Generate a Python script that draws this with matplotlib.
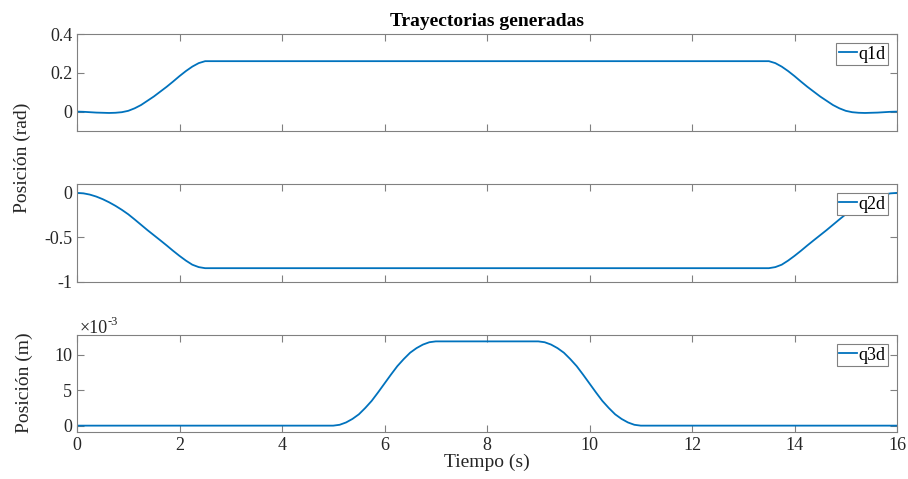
import matplotlib
matplotlib.use("Agg")
import matplotlib.pyplot as plt

# trayectorias articulares deseadas
t1 = [0, 0.125, 0.25, 0.375, 0.5, 0.625, 0.75, 0.875, 1.0, 1.125, 1.25, 1.375, 1.5,
      1.625, 1.75, 1.875, 2.0, 2.125, 2.25, 2.375, 2.5,
      13.5, 13.625, 13.75, 13.875, 14.0, 14.125, 14.25, 14.375, 14.5, 14.625, 14.75,
      14.875, 15.0, 15.125, 15.25, 15.375, 15.5, 15.625, 15.75, 15.875, 16]
q1d = [0.0, -0.001, -0.003, -0.005, -0.006, -0.007, -0.006, -0.003, 0.004, 0.017, 0.034,
       0.056, 0.078, 0.103, 0.128, 0.155, 0.183, 0.209, 0.232, 0.25, 0.26,
       0.26, 0.25, 0.232, 0.209, 0.183, 0.155, 0.128, 0.103, 0.078, 0.056, 0.034,
       0.017, 0.004, -0.003, -0.006, -0.007, -0.006, -0.005, -0.003, -0.001, 0.0]

t2 = t1
q2d = [0.0, -0.005, -0.019, -0.041, -0.07, -0.105, -0.145, -0.19, -0.24, -0.298, -0.358,
       -0.418, -0.475, -0.532, -0.59, -0.65, -0.707, -0.76, -0.806, -0.833, -0.845,
       -0.845, -0.833, -0.806, -0.76, -0.707, -0.65, -0.59, -0.532, -0.475, -0.418, -0.358,
       -0.298, -0.24, -0.19, -0.145, -0.105, -0.07, -0.041, -0.019, -0.005, 0.0]

t3 = [0, 5.0, 5.125, 5.25, 5.375, 5.5, 5.625, 5.75, 5.875, 6.0, 6.125, 6.25, 6.375,
      6.5, 6.625, 6.75, 6.875, 7.0,
      9.0, 9.125, 9.25, 9.375, 9.5, 9.625, 9.75, 9.875, 10.0, 10.125, 10.25, 10.375,
      10.5, 10.625, 10.75, 10.875, 11.0, 16]
q3d = [0.0, 0.0, 0.00012, 0.00045, 0.00095, 0.0016, 0.0025, 0.0035, 0.0047, 0.00595,
       0.0072, 0.0084, 0.0094, 0.0103, 0.01095, 0.01145, 0.01178, 0.0119,
       0.0119, 0.01178, 0.01145, 0.01095, 0.0103, 0.0094, 0.0084, 0.0072, 0.00595,
       0.0047, 0.0035, 0.0025, 0.0016, 0.00095, 0.00045, 0.00012, 0.0, 0.0]

xticks = [0, 2, 4, 6, 8, 10, 12, 14, 16]

plt.rcParams['font.family'] = 'Liberation Serif'
plt.rcParams['axes.unicode_minus'] = False
plt.rcParams['font.size'] = 13

color = '#0072BD'
gris = '#808080'
texto = '#262626'

fig = plt.figure(figsize=(9.08, 4.79), dpi=100)
ax1 = fig.add_axes([0.0848, 0.7265, 0.9031, 0.2025])
ax2 = fig.add_axes([0.0848, 0.4113, 0.9031, 0.2046])
ax3 = fig.add_axes([0.0848, 0.0981, 0.9031, 0.2025])

datos = [(ax1, t1, q1d, 'q1d'), (ax2, t2, q2d, 'q2d'), (ax3, t3, q3d, 'q3d')]
for ax, t, q, nombre in datos:
    ax.plot(t, q, color=color, lw=1.3, label=nombre)
    ax.set_xlim(0, 16)
    ax.set_xticks(xticks)
    ax.tick_params(direction='in', length=5, width=0.8, color=gris,
                   labelcolor=texto, labelsize=13, top=True, right=True)
    for s in ax.spines.values():
        s.set_color(gris)
        s.set_linewidth(0.8)
    leg = ax.legend(loc='upper right', fontsize=13, handlelength=1.0,
                    handletextpad=0.05, borderpad=0.15, borderaxespad=0.5,
                    fancybox=False, framealpha=1, edgecolor=gris)
    leg.get_frame().set_linewidth(0.8)

ax1.set_xticklabels([])
ax2.set_xticklabels([])

ax1.set_ylim(-0.1, 0.4)
ax1.set_yticks([0, 0.2, 0.4])
ax1.set_yticklabels(['0', '0.2', '0.4'])

ax2.set_ylim(-1, 0.1)
ax2.set_yticks([-1, -0.5, 0])
ax2.set_yticklabels(['-1', '-0.5', '0'])

ax3.set_ylim(-0.0009, 0.0128)
ax3.set_yticks([0, 0.005, 0.01])
ax3.set_yticklabels(['0', '5', '10'])
# factor de escala del eje y
fig.text(80 / 908, 1 - 333 / 479, '×10', fontsize=13, color=texto, ha='left', va='baseline')
fig.text(108 / 908, 1 - 325 / 479, '-3', fontsize=9, color=texto, ha='left', va='baseline')

ax1.set_title('Trayectorias generadas', fontsize=14, fontweight='bold', pad=6)
ax3.set_xlabel('Tiempo (s)', fontsize=14, color=texto, labelpad=0)
fig.text(24 / 908, 1 - 383 / 479, 'Posición (m)', rotation=90, fontsize=14,
         color=texto, ha='center', va='center')
fig.text(22 / 908, 1 - 158 / 479, 'Posición (rad)', rotation=90, fontsize=14,
         color=texto, ha='center', va='center')

fig.savefig('out.png', dpi=100)
